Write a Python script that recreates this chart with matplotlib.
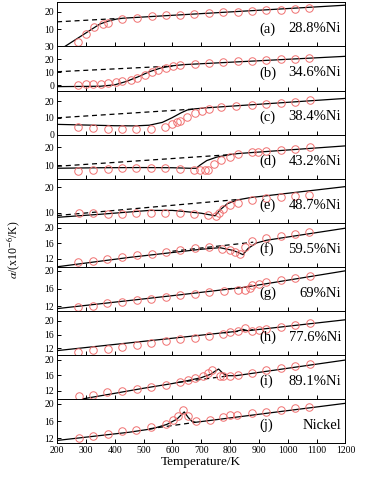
import matplotlib
matplotlib.use('Agg')
import matplotlib.pyplot as plt

plt.rcParams['font.family'] = ['Liberation Serif', 'DejaVu Serif']
plt.rcParams['mathtext.fontset'] = 'stix'

letters = ['(a)', '(b)', '(c)', '(d)', '(e)', '(f)', '(g)', '(h)', '(i)', '(j)']
labels = ['28.8%Ni', '34.6%Ni', '38.4%Ni', '43.2%Ni', '48.7%Ni',
          '59.5%Ni', '69%Ni', '77.6%Ni', '89.1%Ni', 'Nickel']
xticks = [200, 300, 400, 500, 600, 700, 800, 900, 1000, 1100, 1200]

# (a) 28.8%Ni
pt_a = [274, 300, 328, 360, 375, 426, 476, 528, 576, 626, 676, 728, 776, 827, 877, 924, 975, 1025, 1075]
pv_a = [2.3, 7.1, 11.0, 12.9, 13.3, 15.6, 16.5, 17.5, 17.9, 18.3, 18.8, 19.3, 19.7, 20.0, 20.4, 20.8, 21.0, 21.5, 22.1]
lt_a = [227, 348, 377, 406, 429, 1200]
lv_a = [0.0, 12.9, 14.6, 15.8, 16.3, 23.8]
dt_a = [200, 420]
dv_a = [14.2, 16.2]

# (b) 34.6%Ni
pt_b = [273, 300, 323, 352, 375, 404, 424, 456, 476, 505, 528, 551, 576, 603, 626, 678, 728, 776, 827, 877, 924, 975, 1025, 1075]
pv_b = [0.5, 0.8, 1.1, 1.4, 1.6, 2.7, 3.2, 4.3, 5.4, 8.1, 10.5, 11.9, 13.2, 14.9, 15.4, 16.8, 17.6, 18.1, 18.4, 18.9, 19.5, 20.0, 20.5, 21.1]
lt_b = [200, 350, 400, 440, 480, 520, 560, 600, 640, 1200]
lv_b = [-1.0, -0.7, 0.4, 3.0, 6.5, 10.5, 13.4, 15.1, 16.0, 22.4]
dt_b = [200, 600]
dv_b = [10.5, 14.9]

# (c) 38.4%Ni
pt_c = [273, 324, 375, 425, 475, 525, 573, 600, 616, 626, 649, 678, 703, 727, 769, 822, 877, 924, 975, 1025, 1077]
pv_c = [4.4, 3.8, 3.4, 3.1, 3.1, 3.5, 4.7, 6.1, 7.3, 8.4, 10.6, 12.6, 14.2, 15.2, 16.4, 17.0, 17.6, 18.4, 19.0, 19.6, 20.4]
lt_c = [200, 300, 400, 470, 520, 565, 598, 630, 652, 680, 720, 1200]
lv_c = [6.1, 5.7, 5.3, 5.2, 5.6, 7.3, 10.0, 13.0, 14.7, 15.4, 16.0, 21.6]
dt_c = [200, 680]
dv_c = [10.0, 15.3]

# (d) 43.2%Ni
pt_d = [273, 325, 375, 425, 475, 525, 575, 626, 676, 695, 713, 723, 745, 770, 800, 826, 877, 898, 924, 975, 1025, 1077]
pv_d = [6.8, 7.4, 7.8, 8.1, 8.3, 8.3, 8.1, 7.8, 7.5, 7.3, 7.1, 7.2, 10.4, 12.8, 14.3, 15.9, 17.1, 17.3, 17.8, 18.5, 19.1, 20.0]
lt_d = [200, 350, 500, 600, 660, 682, 696, 719, 753, 799, 826, 1200]
lv_d = [8.2, 8.5, 8.6, 8.5, 8.2, 8.2, 10.0, 12.5, 14.4, 15.8, 16.4, 20.7]
dt_d = [200, 800]
dv_d = [9.3, 15.8]

# (e) 48.7%Ni
pt_e = [275, 325, 375, 425, 475, 525, 575, 625, 676, 723, 751, 761, 774, 799, 826, 877, 924, 975, 1025, 1075]
pv_e = [9.9, 9.9, 9.6, 9.7, 9.9, 9.9, 9.9, 9.9, 9.6, 9.2, 9.0, 9.9, 11.7, 13.0, 13.9, 15.1, 15.7, 16.4, 16.8, 17.1]
lt_e = [200, 350, 520, 600, 640, 700, 748, 765, 790, 825, 870, 1200]
lv_e = [8.3, 9.5, 11.0, 11.0, 10.6, 9.9, 8.9, 11.2, 13.6, 15.1, 16.0, 20.3]
dt_e = [200, 830]
dv_e = [9.0, 15.3]

# (f) 59.5%Ni
pt_f = [273, 323, 372, 425, 476, 528, 576, 626, 678, 727, 773, 799, 816, 833, 851, 877, 924, 975, 1025, 1075]
pv_f = [11.2, 11.6, 12.1, 12.5, 13.0, 13.4, 13.9, 14.4, 14.7, 15.0, 14.5, 14.2, 13.9, 13.3, 15.2, 16.6, 17.4, 17.8, 18.3, 18.8]
lt_f = [200, 450, 700, 764, 810, 833, 845, 862, 891, 926, 1200]
lv_f = [10.0, 12.4, 14.5, 14.9, 14.2, 13.5, 13.1, 14.7, 16.1, 16.8, 19.9]
dt_f = [600, 880]
dv_f = [14.0, 16.3]

# (g) 69%Ni
pt_g = [273, 325, 374, 425, 476, 526, 576, 626, 678, 727, 778, 826, 851, 868, 877, 901, 926, 975, 1025, 1077]
pv_g = [11.85, 12.2, 12.7, 13.0, 13.4, 13.7, 14.2, 14.5, 14.8, 15.2, 15.4, 15.7, 15.7, 16.1, 16.8, 17.1, 17.4, 17.9, 18.4, 18.9]
lt_g = [200, 626, 850, 1200]
lv_g = [11.5, 14.6, 16.3, 20.0]
dt_g = [790, 880]
dv_g = [15.9, 16.6]

# (h) 77.6%Ni
pt_h = [273, 325, 377, 425, 476, 526, 576, 626, 678, 727, 776, 799, 826, 851, 877, 901, 926, 975, 1025, 1077]
pv_h = [10.8, 11.4, 11.9, 12.5, 12.9, 13.5, 14.1, 14.6, 15.1, 15.5, 16.1, 16.6, 17.1, 17.8, 17.1, 17.3, 17.7, 18.1, 18.9, 19.5]
lt_h = [200, 820, 845, 860, 1200]
lv_h = [11.3, 16.9, 17.5, 17.1, 20.3]
dt_h = [780, 880]
dv_h = [16.5, 17.4]

# (i) 89.1%Ni
pt_i = [275, 325, 374, 425, 476, 526, 576, 626, 655, 678, 705, 722, 737, 765, 776, 800, 826, 877, 926, 975, 1025, 1077]
pv_i = [10.7, 11.1, 11.7, 12.1, 12.6, 13.1, 13.6, 14.3, 14.8, 15.2, 15.9, 16.5, 17.4, 15.8, 15.7, 15.9, 16.1, 16.7, 17.4, 17.9, 18.4, 18.9]
lt_i = [290, 400, 500, 600, 650, 700, 730, 760, 775, 790, 820, 1200]
lv_i = [10.0, 11.4, 12.7, 13.9, 14.6, 15.4, 16.2, 17.6, 16.5, 15.9, 15.9, 19.9]
dt_i = [620, 800]
dv_i = [14.2, 15.9]

# (j) Nickel
pt_j = [275, 325, 375, 425, 475, 525, 576, 603, 620, 637, 655, 680, 730, 774, 800, 825, 875, 925, 977, 1025, 1075]
pv_j = [12.1, 12.6, 13.1, 13.6, 14.0, 14.5, 15.4, 16.2, 17.2, 18.5, 17.1, 15.9, 16.2, 16.9, 17.3, 17.5, 17.8, 18.1, 18.5, 19.0, 19.2]
lt_j = [200, 450, 530, 580, 615, 641, 655, 668, 680, 1200]
lv_j = [11.5, 13.4, 14.2, 15.2, 16.4, 18.1, 16.8, 15.9, 15.7, 20.1]
dt_j = [520, 680]
dv_j = [14.2, 15.7]

ylims = [(0, 25.4), (-4, 30), (0, 26.3), (2.4, 27), (6.2, 23.4),
         (10, 21.3), (11, 20.9), (10.05, 22.9), (9.96, 21.2), (10.9, 21.1)]
yticks = [[10, 20], [0, 10, 20, 30], [0, 10, 20], [10, 20], [10, 20],
          [12, 16, 20], [12, 16, 20], [12, 16, 20], [12, 16, 20], [12, 16, 20]]

panels = [
    (pt_a, pv_a, lt_a, lv_a, dt_a, dv_a),
    (pt_b, pv_b, lt_b, lv_b, dt_b, dv_b),
    (pt_c, pv_c, lt_c, lv_c, dt_c, dv_c),
    (pt_d, pv_d, lt_d, lv_d, dt_d, dv_d),
    (pt_e, pv_e, lt_e, lv_e, dt_e, dv_e),
    (pt_f, pv_f, lt_f, lv_f, dt_f, dv_f),
    (pt_g, pv_g, lt_g, lv_g, dt_g, dv_g),
    (pt_h, pv_h, lt_h, lv_h, dt_h, dv_h),
    (pt_i, pv_i, lt_i, lv_i, dt_i, dv_i),
    (pt_j, pv_j, lt_j, lv_j, dt_j, dv_j),
]

fig, axes = plt.subplots(10, 1, figsize=(3.78, 4.8), dpi=100, sharex=True)
fig.subplots_adjust(left=0.151, right=0.914, top=0.995, bottom=0.077, hspace=0)

for k, ax in enumerate(axes):
    pt, pv, lt, lv, dt, dv = panels[k]
    ax.plot(dt, dv, color='black', lw=0.9, ls=(0, (4, 3)))
    ax.plot(lt, lv, color='black', lw=0.9)
    ax.plot(pt, pv, 'o', mfc='none', mec='#f07070', mew=0.7, ms=5.4)
    ax.set_xlim(200, 1200)
    ax.set_ylim(*ylims[k])
    ax.set_yticks(yticks[k])
    ax.set_xticks(xticks)
    ax.tick_params(direction='in', length=3, width=0.7, labelsize=7, pad=2)
    for s in ax.spines.values():
        s.set_linewidth(0.7)
    ax.text(0.70, 0.4, letters[k], transform=ax.transAxes, ha='left', va='center', fontsize=10.5)
    ax.text(0.985, 0.4, labels[k], transform=ax.transAxes, ha='right', va='center', fontsize=10.5)

axes[-1].set_xlabel('Temperature/K', fontsize=9.5, labelpad=1)
fig.text(0.035, 0.48, r'$\alpha$/(x10$^{-6}$/K)', rotation=90, ha='center', va='center', fontsize=8.5)

plt.savefig('out.png', dpi=100)
